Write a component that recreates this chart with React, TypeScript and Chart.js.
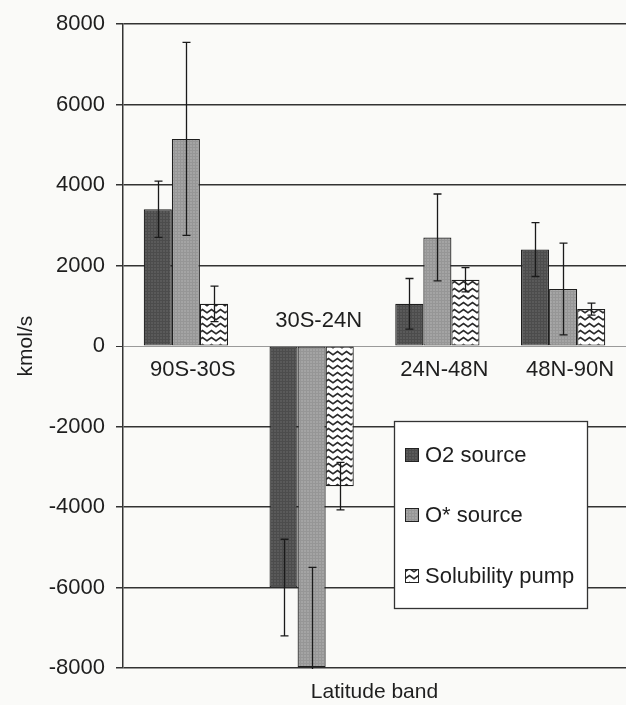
import React, { useEffect, useRef } from "react";
import { Chart, registerables } from "chart.js";

Chart.register(...registerables);

const categories = ["90S-30S", "30S-24N", "24N-48N", "48N-90N"];
const seriesNames = ["O2 source", "O* source", "Solubility pump"];
const o2Source = [3400, -6000, 1050, 2400];
const o2Err = [700, 1200, 630, 670];
const oStarSource = [5150, -7980, 2700, 1420];
const oStarErr = [2400, 2480, 1080, 1140];
const solubility = [1050, -3480, 1650, 920];
const solErr = [440, 590, 300, 150];
const yTicks = [-8000, -6000, -4000, -2000, 0, 2000, 4000, 6000, 8000];

const FONT = "'Liberation Sans', Arial, sans-serif";
const TEXT = "#1e1e1e";

function makePattern(kind: string): CanvasPattern | string {
  const c = document.createElement("canvas");
  const ctx = c.getContext("2d");
  if (!ctx) return "#888";
  if (kind === "dark" || kind === "light") {
    c.width = 3;
    c.height = 3;
    ctx.fillStyle = kind === "dark" ? "#5a5a5a" : "#a4a4a4";
    ctx.fillRect(0, 0, 3, 3);
    ctx.fillStyle = kind === "dark" ? "#4c4c4c" : "#969696";
    ctx.fillRect(0, 0, 3, 1);
    ctx.fillRect(0, 0, 1, 3);
  } else {
    c.width = 9;
    c.height = 7;
    ctx.fillStyle = "#ffffff";
    ctx.fillRect(0, 0, 9, 7);
    ctx.strokeStyle = "#2a2a2a";
    ctx.lineWidth = 1.6;
    ctx.beginPath();
    ctx.moveTo(-0.5, 5.2);
    ctx.lineTo(4.5, 1.5);
    ctx.lineTo(9.5, 5.2);
    ctx.stroke();
  }
  const p = ctx.createPattern(c, "repeat");
  return p || "#888";
}

export default function App() {
  const ref = useRef<HTMLCanvasElement | null>(null);

  useEffect(() => {
    if (!ref.current) return;
    const fills = [makePattern("dark"), makePattern("light"), makePattern("zig")];
    const errs = [o2Err, oStarErr, solErr];

    const bgPlugin = {
      id: "bg",
      beforeDraw(chart: any) {
        const ctx = chart.ctx;
        ctx.save();
        ctx.fillStyle = "#fafaf8";
        ctx.fillRect(0, 0, chart.width, chart.height);
        ctx.restore();
      },
    };

    const overlay = {
      id: "overlay",
      afterDatasetsDraw(chart: any) {
        const ctx = chart.ctx;
        const y = chart.scales.y;
        const x = chart.scales.x;
        const area = chart.chartArea;
        // error bars
        ctx.save();
        ctx.beginPath();
        ctx.rect(area.left, area.top - 1, area.right - area.left, area.bottom - area.top + 2);
        ctx.clip();
        ctx.strokeStyle = "#1a1a1a";
        ctx.lineWidth = 1.3;
        chart.data.datasets.forEach((ds: any, di: number) => {
          const meta = chart.getDatasetMeta(di);
          meta.data.forEach((bar: any, i: number) => {
            const v = ds.data[i];
            const e = errs[di][i];
            const yt = y.getPixelForValue(v + e);
            const yb = y.getPixelForValue(v - e);
            const cx = Math.round(bar.x) + 0.5;
            ctx.beginPath();
            ctx.moveTo(cx, yt);
            ctx.lineTo(cx, yb);
            ctx.moveTo(cx - 4, yt);
            ctx.lineTo(cx + 4, yt);
            ctx.moveTo(cx - 4, yb);
            ctx.lineTo(cx + 4, yb);
            ctx.stroke();
          });
        });
        ctx.restore();

        // category labels at the zero line
        ctx.save();
        ctx.font = `22px ${FONT}`;
        ctx.fillStyle = TEXT;
        ctx.textAlign = "center";
        ctx.textBaseline = "middle";
        const y0 = y.getPixelForValue(0);
        categories.forEach((c, i) => {
          const cx = x.getPixelForValue(i) + 7;
          const neg = o2Source[i] < 0;
          ctx.fillText(c, cx, neg ? y0 - 25 : y0 + 24);
        });
        ctx.restore();

        // legend box
        ctx.save();
        const lx = 394, ly = 421, lw = 193, lh = 187;
        ctx.fillStyle = "#ffffff";
        ctx.fillRect(lx, ly, lw, lh);
        ctx.strokeStyle = "#333";
        ctx.lineWidth = 1.3;
        ctx.strokeRect(lx + 0.5, ly + 0.5, lw, lh);
        const rows = [455, 515, 576];
        seriesNames.forEach((name, i) => {
          const ry = rows[i];
          ctx.fillStyle = fills[i] as any;
          ctx.fillRect(405, ry - 7, 14, 14);
          ctx.strokeStyle = "#222";
          ctx.lineWidth = 1;
          ctx.strokeRect(405.5, ry - 6.5, 13, 13);
          ctx.fillStyle = TEXT;
          ctx.font = `22px ${FONT}`;
          ctx.textAlign = "left";
          ctx.textBaseline = "middle";
          ctx.fillText(name, 425, ry + 1);
        });
        ctx.restore();
      },
    };

    const chart = new Chart(ref.current, {
      type: "bar",
      data: {
        labels: categories,
        datasets: [
          { label: seriesNames[0], data: o2Source, backgroundColor: fills[0] as any },
          { label: seriesNames[1], data: oStarSource, backgroundColor: fills[1] as any },
          { label: seriesNames[2], data: solubility, backgroundColor: fills[2] as any },
        ].map((d) => ({
          ...d,
          borderColor: "#1e1e1e",
          borderWidth: 1.2,
          borderSkipped: false as any,
          categoryPercentage: 0.67,
          barPercentage: 1.0,
        })),
      },
      options: {
        responsive: false,
        animation: false,
        layout: { padding: { top: 19, right: 0, left: 0, bottom: 0 } },
        plugins: {
          legend: { display: false },
          tooltip: { enabled: false },
        },
        scales: {
          x: {
            grid: { display: false },
            border: { display: false },
            ticks: { display: false },
            title: {
              display: true,
              text: "Latitude band",
              color: TEXT,
              font: { family: FONT, size: 21 },
              padding: { top: 0, bottom: 0 },
            },
            afterFit(scale: any) {
              scale.height = 37;
            },
          },
          y: {
            min: -8000,
            max: 8000,
            afterBuildTicks(scale: any) {
              scale.ticks = yTicks.map((v) => ({ value: v }));
            },
            ticks: {
              color: TEXT,
              font: { family: FONT, size: 22 },
              padding: 11,
              callback: (v: any) => String(v),
            },
            grid: {
              color: (ctx: any) => (ctx.tick && ctx.tick.value === 0 ? "#9a9a9a" : "#333"),
              lineWidth: (ctx: any) => (ctx.tick && ctx.tick.value === 0 ? 1 : 1.5),
              tickLength: 7,
              tickColor: "#333",
            },
            border: { color: "#333", width: 1.5 },
            title: {
              display: true,
              text: "kmol/s",
              color: TEXT,
              font: { family: FONT, size: 21 },
              padding: { top: 14, bottom: 0 },
            },
            afterFit(scale: any) {
              scale.width = 123;
            },
          },
        },
      },
      plugins: [bgPlugin, overlay],
    });
    return () => chart.destroy();
  }, []);

  return (
    <div style={{ position: "absolute", left: 0, top: 0, width: 626, height: 705 }}>
      <canvas ref={ref} width={626} height={705} style={{ width: 626, height: 705, display: "block" }} />
    </div>
  );
}
